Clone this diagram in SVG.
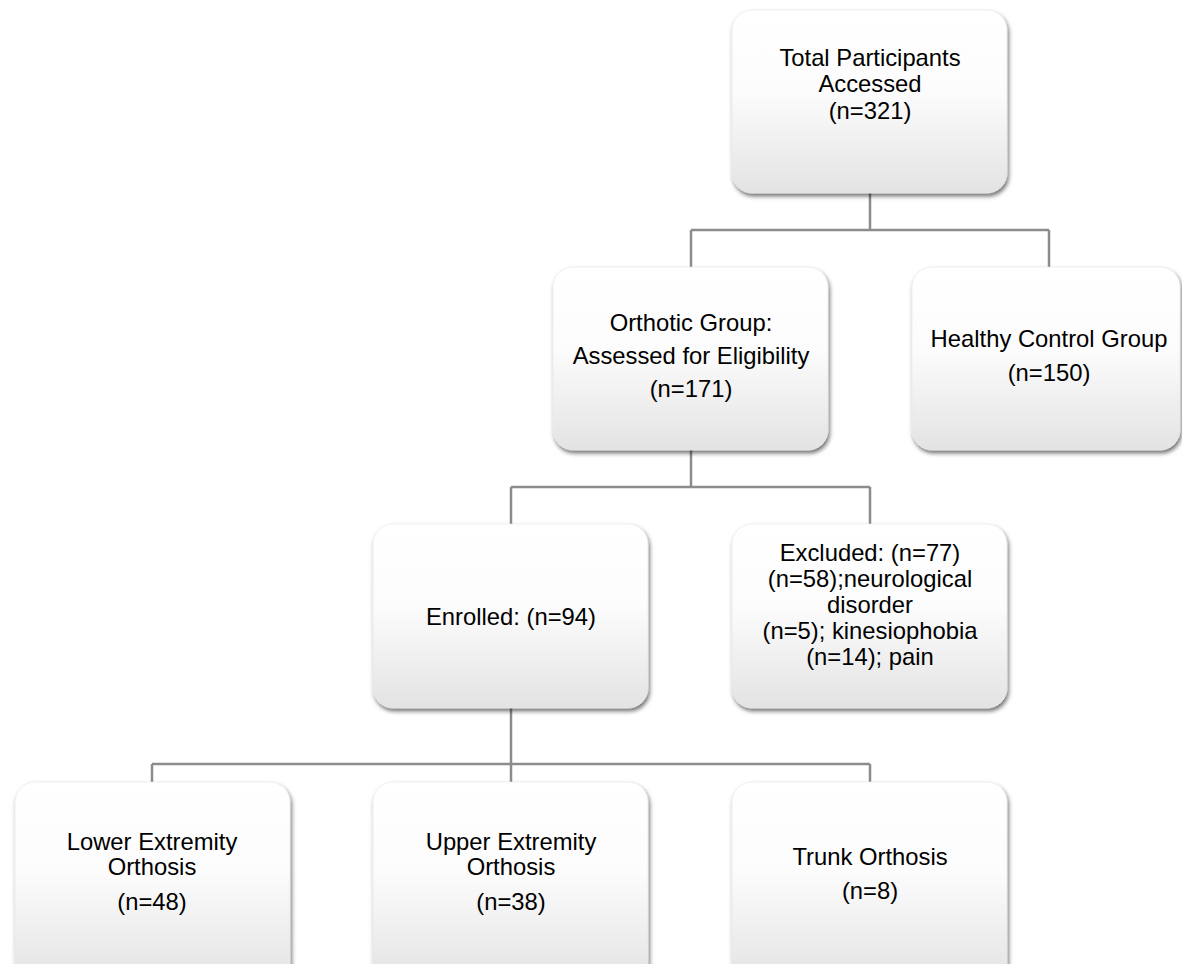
<svg xmlns="http://www.w3.org/2000/svg" width="1182" height="964" viewBox="0 0 1182 964">
<defs>
<linearGradient id="g" x1="0" y1="0" x2="0" y2="1">
<stop offset="0" stop-color="#ffffff"/>
<stop offset="0.45" stop-color="#fcfcfc"/>
<stop offset="1" stop-color="#e3e3e3"/>
</linearGradient>
<filter id="sh" x="-10%" y="-10%" width="125%" height="130%">
<feDropShadow dx="1.5" dy="3" stdDeviation="2.2" flood-color="#000" flood-opacity="0.55"/>
</filter>
</defs>
<style>
.box{fill:url(#g);filter:url(#sh);stroke:#e6e6e6;stroke-width:0.6}
.t{font-family:"Liberation Sans",Arial,sans-serif;font-size:23.8px;fill:#000;text-anchor:middle}
.c{fill:none;stroke:#8c8c8c;stroke-width:2.5}
</style>
<rect width="1182" height="964" fill="#fff"/>
<g id="connectors">
<path class="c" d="M870 193V230M691 230H1049M691 230V267M1049 230V267"/>
<path class="c" d="M691 450V487M511 487H870M511 487V524M870 487V524"/>
<path class="c" d="M511 708V764M152 764H870M152 764V782M511 764V782M870 764V782"/>
</g>
<g id="total">
<rect class="box" x="732" y="10" width="275" height="183" rx="20"/>
<text class="t" x="870" y="66">Total Participants</text>
<text class="t" x="870" y="92">Accessed</text>
<text class="t" x="870" y="119">(n=321)</text>
</g>
<g id="orthotic">
<rect class="box" x="553" y="267" width="275" height="183" rx="20"/>
<text class="t" x="691" y="331">Orthotic Group:</text>
<text class="t" x="691" y="364">Assessed for Eligibility</text>
<text class="t" x="691" y="397">(n=171)</text>
</g>
<g id="healthy">
<rect class="box" x="912" y="267" width="268" height="183" rx="20"/>
<text class="t" x="1049" y="347">Healthy Control Group</text>
<text class="t" x="1049" y="381">(n=150)</text>
</g>
<g id="enrolled">
<rect class="box" x="373" y="524" width="275" height="184" rx="20"/>
<text class="t" x="511" y="625">Enrolled: (n=94)</text>
</g>
<g id="excluded">
<rect class="box" x="732" y="524" width="275" height="184" rx="20"/>
<text class="t" x="870" y="561">Excluded: (n=77)</text>
<text class="t" x="870" y="587">(n=58);neurological</text>
<text class="t" x="870" y="613">disorder</text>
<text class="t" x="870" y="639">(n=5); kinesiophobia</text>
<text class="t" x="870" y="665">(n=14); pain</text>
</g>
<g id="lower">
<rect class="box" x="15" y="782" width="275" height="200" rx="20"/>
<text class="t" x="152" y="850">Lower Extremity</text>
<text class="t" x="152" y="875">Orthosis</text>
<text class="t" x="152" y="910">(n=48)</text>
</g>
<g id="upper">
<rect class="box" x="373" y="782" width="275" height="200" rx="20"/>
<text class="t" x="511" y="850">Upper Extremity</text>
<text class="t" x="511" y="875">Orthosis</text>
<text class="t" x="511" y="910">(n=38)</text>
</g>
<g id="trunk">
<rect class="box" x="732" y="782" width="275" height="200" rx="20"/>
<text class="t" x="870" y="865">Trunk Orthosis</text>
<text class="t" x="870" y="899">(n=8)</text>
</g>
</svg>
